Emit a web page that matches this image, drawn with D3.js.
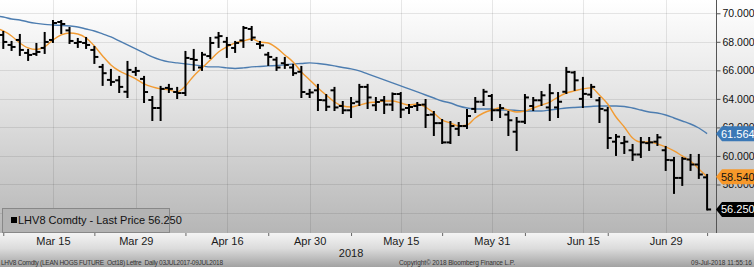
<!DOCTYPE html>
<html>
<head>
  <meta charset="utf-8">
  <style>
    html, body {
      margin: 0;
      padding: 0;
      background: #fff;
      width: 100%;
      height: 100%;
      overflow: hidden;
      font-family: "Liberation Sans", Arial, sans-serif;
    }
    svg { display: block; }
    .bar line { stroke: #000; stroke-width: 2px; }
    .grid line { stroke: #000; stroke-opacity: 0.09; shape-rendering: crispEdges; }
    .foot { font-size: 6.5px; fill: #333; white-space: pre; }
  </style>
</head>
<body>
  <svg width="754" height="267"></svg>

  <script src="https://d3js.org/d3.v7.min.js"></script>
  <script>
    const dates = [
      "2018-03-06","2018-03-07","2018-03-08","2018-03-09","2018-03-12","2018-03-13","2018-03-14","2018-03-15","2018-03-16",
      "2018-03-19","2018-03-20","2018-03-21","2018-03-22","2018-03-23","2018-03-26","2018-03-27","2018-03-28","2018-03-29",
      "2018-04-02","2018-04-03","2018-04-04","2018-04-05","2018-04-06","2018-04-09","2018-04-10","2018-04-11","2018-04-12",
      "2018-04-13","2018-04-16","2018-04-17","2018-04-18","2018-04-19","2018-04-20","2018-04-23","2018-04-24","2018-04-25",
      "2018-04-26","2018-04-27","2018-04-30",
      "2018-05-01","2018-05-02","2018-05-03","2018-05-04","2018-05-07","2018-05-08","2018-05-09","2018-05-10","2018-05-11",
      "2018-05-14","2018-05-15","2018-05-16","2018-05-17","2018-05-18","2018-05-21","2018-05-22","2018-05-23","2018-05-24",
      "2018-05-25","2018-05-29","2018-05-30","2018-05-31",
      "2018-06-01","2018-06-04","2018-06-05","2018-06-06","2018-06-07","2018-06-08","2018-06-11","2018-06-12","2018-06-13",
      "2018-06-14","2018-06-15","2018-06-18","2018-06-19","2018-06-20","2018-06-21","2018-06-22","2018-06-25","2018-06-26",
      "2018-06-27","2018-06-28","2018-06-29",
      "2018-07-02","2018-07-03","2018-07-05","2018-07-06","2018-07-09"
    ];

    const open = [
      68.80, 68.48, 67.78, 68.13, 67.22, 67.15, 67.57, 68.13, 69.39, 68.80,
      67.92, 67.92, 67.43, 66.24, 65.33, 65.30, 64.50, 65.89, 65.40, 63.92,
      63.36, 64.77, 64.48, 64.41, 66.80, 66.20, 67.00, 68.30, 68.00, 67.57,
      68.10, 68.90, 67.85, 67.10, 66.75, 66.50, 66.20, 65.90, 64.35, 64.60,
      63.90, 64.60, 63.50, 63.20, 63.80, 64.84, 63.55, 63.90, 63.60, 64.34,
      63.36, 63.50, 63.60, 62.90, 62.30, 60.95, 61.90, 62.10, 63.30, 63.80,
      64.20, 63.20, 62.90, 61.70, 62.40, 63.50, 63.90, 63.40, 63.40, 64.50,
      65.85, 64.00, 64.30, 63.90, 63.20, 61.00, 60.90, 60.40, 60.10, 60.90,
      61.00, 60.40, 59.70, 58.46, 59.75, 59.40, 58.50
    ];
    const high = [
      69.00, 68.69, 67.99, 68.48, 67.43, 67.85, 68.62, 69.46, 69.46, 68.97,
      68.20, 68.27, 67.64, 66.38, 66.03, 65.54, 66.59, 66.17, 65.54, 64.13,
      64.84, 64.98, 64.77, 67.29, 67.43, 67.22, 68.27, 68.62, 68.27, 67.99,
      69.04, 69.04, 67.99, 67.22, 66.87, 66.87, 66.38, 66.24, 64.63, 64.98,
      64.27, 64.77, 63.78, 64.06, 64.98, 64.98, 64.06, 64.13, 64.38, 64.41,
      63.57, 63.71, 63.92, 63.08, 62.52, 62.38, 62.31, 63.22, 64.06, 64.63,
      64.27, 63.57, 63.08, 62.66, 64.27, 64.06, 64.48, 64.98, 64.41, 66.17,
      65.89, 65.47, 64.98, 64.06, 63.36, 61.47, 61.33, 60.77, 61.26, 61.26,
      61.47, 60.63, 59.86, 59.86, 60.07, 60.07, 58.67
    ];
    const low = [
      68.30, 67.57, 67.43, 67.08, 66.73, 67.08, 67.22, 67.99, 68.62, 67.92,
      67.64, 67.57, 66.52, 64.98, 64.98, 64.48, 64.13, 65.68, 63.78, 62.52,
      62.52, 64.48, 64.06, 64.27, 66.03, 66.03, 66.87, 67.64, 66.94, 67.29,
      67.64, 68.13, 67.57, 66.38, 66.03, 66.17, 65.68, 64.13, 64.13, 63.22,
      63.22, 63.22, 63.01, 62.73, 63.57, 63.36, 63.22, 63.01, 63.22, 62.73,
      63.01, 63.22, 62.03, 61.47, 60.91, 60.91, 61.47, 61.96, 63.08, 63.57,
      62.52, 62.73, 61.47, 60.42, 62.31, 63.22, 63.57, 62.52, 62.73, 64.41,
      64.63, 63.43, 64.13, 62.38, 60.56, 60.07, 60.21, 59.72, 59.93, 60.42,
      60.77, 59.02, 57.41, 57.97, 59.02, 58.46, 56.25
    ];
    const close = [
      68.50, 67.99, 67.64, 67.43, 67.08, 67.29, 67.99, 69.32, 69.25, 68.06,
      67.99, 67.78, 66.94, 65.80, 65.19, 64.84, 66.03, 65.96, 64.48, 63.36,
      64.70, 64.70, 64.41, 66.87, 66.73, 67.10, 67.92, 68.40, 67.78, 67.92,
      68.97, 68.30, 67.75, 66.94, 66.20, 66.38, 65.80, 64.48, 64.45, 63.92,
      63.45, 63.40, 63.20, 63.70, 64.84, 64.10, 63.78, 63.60, 64.34, 63.25,
      63.43, 63.57, 62.87, 62.30, 60.95, 62.10, 62.10, 62.80, 63.80, 64.50,
      63.20, 63.35, 62.50, 62.40, 64.10, 63.90, 64.25, 64.40, 63.80, 65.89,
      65.30, 64.35, 64.84, 63.30, 61.26, 61.35, 61.00, 60.10, 60.95, 60.95,
      61.30, 59.72, 58.46, 59.80, 59.40, 58.70, 56.25
    ];

    // short moving average (orange)
    const maShort = [
      68.97, 68.76, 68.41, 67.92, 67.57, 67.46, 67.64, 68.13, 68.48, 68.62,
      68.55, 68.27, 67.71, 67.01, 66.38, 65.96, 65.68, 65.40, 65.05, 64.84,
      64.70, 64.63, 64.49, 64.91, 65.61, 66.17, 66.73, 67.29, 67.64, 67.92,
      68.06, 68.20, 67.99, 67.92, 67.57, 67.08, 66.59, 65.89, 65.33, 64.77,
      64.27, 63.78, 63.50, 63.43, 63.57, 63.71, 63.78, 63.85, 63.85, 63.71,
      63.57, 63.64, 63.43, 63.01, 62.52, 62.31, 62.10, 62.17, 62.66, 63.01,
      63.22, 63.36, 63.22, 63.08, 63.15, 63.36, 63.57, 63.78, 64.13, 64.41,
      64.56, 64.70, 64.77, 64.27, 63.64, 62.73, 62.03, 61.26, 60.98, 60.98,
      60.84, 60.63, 60.35, 60.00, 59.65, 59.09, 58.54
    ];
    // long moving average (blue)
    const maLong = [
      69.81, 69.74, 69.60, 69.53, 69.39, 69.29, 69.22, 69.18, 69.15, 69.11,
      69.04, 68.90, 68.76, 68.55, 68.34, 68.06, 67.78, 67.50, 67.22, 66.94,
      66.73, 66.59, 66.52, 66.45, 66.38, 66.31, 66.24, 66.24, 66.17, 66.13,
      66.17, 66.24, 66.27, 66.31, 66.34, 66.38, 66.45, 66.48, 66.52, 66.48,
      66.41, 66.31, 66.20, 66.10, 65.96, 65.75, 65.54, 65.33, 65.12, 64.91,
      64.70, 64.49, 64.27, 64.06, 63.85, 63.71, 63.50, 63.36, 63.29, 63.29,
      63.29, 63.22, 63.22, 63.19, 63.15, 63.15, 63.15, 63.22, 63.29, 63.36,
      63.40, 63.43, 63.47, 63.50, 63.50, 63.50, 63.47, 63.36, 63.22, 63.08,
      63.01, 62.87, 62.66, 62.45, 62.24, 61.96, 61.564
    ];

    const tickDates = ["2018-03-15","2018-03-29","2018-04-16","2018-04-30","2018-05-15","2018-05-31","2018-06-15","2018-06-29"];
    const tickLabels = ["Mar 15","Mar 29","Apr 16","Apr 30","May 15","May 31","Jun 15","Jun 29"];
    const minorTickDates = ["2018-03-07","2018-03-22","2018-04-09","2018-04-23","2018-05-07","2018-05-22","2018-06-06","2018-06-20","2018-07-09"];
    const gridTicks = [56, 58, 60, 62, 64, 66, 68, 70];
    const yTicks = [58, 60, 62, 64, 66, 68, 70];
    const yearLabel = "2018";

    const legendText = "LHV8 Comdty - Last Price 56.250";
    const footLeft = "LHV8 Comdty (LEAN HOGS FUTURE  Oct18) Lettre  Daily 03JUL2017-09JUL2018";
    const footMid = "Copyright\u00a9 2018 Bloomberg Finance L.P.";
    const footRight = "09-Jul-2018 11:55:16";

    const svg = d3.select("svg");
    const width = 754, height = 267;
    const plotRight = 716, plotBottom = 233;

    const x = d3.scalePoint().domain(dates).range([-5, 707.1]);
    const y = d3.scaleLinear().domain([54.6, 70.93]).range([plotBottom, 0]);

    const defs = svg.append("defs");
    const g1 = defs.append("linearGradient").attr("id", "plotBg")
      .attr("x1", 0).attr("y1", 0).attr("x2", 0).attr("y2", 1);
    g1.append("stop").attr("offset", "0%").attr("stop-color", "#ffffff");
    g1.append("stop").attr("offset", "45%").attr("stop-color", "#e2e2e2");
    g1.append("stop").attr("offset", "100%").attr("stop-color", "#b6b6b6");
    const g2 = defs.append("linearGradient").attr("id", "footBg")
      .attr("x1", 0).attr("y1", 0).attr("x2", 0).attr("y2", 1);
    g2.append("stop").attr("offset", "0%").attr("stop-color", "#f4f4f4");
    g2.append("stop").attr("offset", "45%").attr("stop-color", "#dcdcdc");
    g2.append("stop").attr("offset", "100%").attr("stop-color", "#a2a2a2");
    defs.append("clipPath").attr("id", "clip")
      .append("rect").attr("width", plotRight).attr("height", plotBottom);

    svg.append("rect").attr("width", width).attr("height", plotBottom).attr("fill", "url(#plotBg)");
    svg.append("rect").attr("y", plotBottom).attr("width", width).attr("height", height - plotBottom).attr("fill", "url(#footBg)");

    // grid
    const grid = svg.append("g").attr("class", "grid");
    grid.selectAll(".h").data(gridTicks).join("line")
      .attr("x1", 0).attr("x2", plotRight)
      .attr("y1", d => Math.round(y(d)) + 0.5).attr("y2", d => Math.round(y(d)) + 0.5);
    grid.selectAll(".v").data(tickDates).join("line")
      .attr("y1", 0).attr("y2", plotBottom)
      .attr("x1", d => Math.round(x(d)) + 0.5).attr("x2", d => Math.round(x(d)) + 0.5);

    const plot = svg.append("g").attr("clip-path", "url(#clip)");

    const line = d3.line().x((d, i) => x(dates[i])).y(d => y(d)).curve(d3.curveMonotoneX);
    plot.append("path").datum(maLong).attr("d", line)
      .attr("fill", "none").attr("stroke", "#4d7db0").attr("stroke-width", 1.4);
    plot.append("path").datum(maShort).attr("d", line)
      .attr("fill", "none").attr("stroke", "#f29b32").attr("stroke-width", 1.4);

    const bars = plot.append("g").attr("class", "bar")
      .selectAll("g").data(dates).join("g");
    bars.append("line")
      .attr("x1", d => x(d)).attr("x2", d => x(d))
      .attr("y1", (d, i) => y(high[i]) - 1).attr("y2", (d, i) => y(low[i]) + 1);
    bars.append("line")
      .attr("x1", d => x(d) - 4).attr("x2", d => x(d))
      .attr("y1", (d, i) => y(open[i])).attr("y2", (d, i) => y(open[i]));
    bars.append("line")
      .attr("x1", d => x(d)).attr("x2", d => x(d) + 4)
      .attr("y1", (d, i) => y(close[i])).attr("y2", (d, i) => y(close[i]));

    // right axis
    const yAxis = svg.append("g").attr("transform", `translate(${plotRight + 0.5},0)`)
      .call(d3.axisRight(y).tickValues(yTicks).tickFormat(d3.format(".3f")).tickSize(4).tickSizeOuter(0).tickPadding(2));
    yAxis.select(".domain").attr("stroke", "#555").attr("d", `M0,0V${plotBottom}`);
    yAxis.selectAll(".tick line").attr("stroke", "#555");
    yAxis.selectAll("text").attr("fill", "#111").style("font-size", "10.5px")
      .style("font-family", "'Liberation Sans', Arial, sans-serif");

    // bottom axis
    const xAxis = svg.append("g").attr("transform", `translate(0,${plotBottom})`)
      .call(d3.axisBottom(x).tickValues(tickDates).tickFormat((d, i) => tickLabels[i]).tickSize(0).tickPadding(4));
    xAxis.select(".domain").remove();
    xAxis.selectAll("text").attr("fill", "#1a1a1a").style("font-size", "11px")
      .style("font-family", "'Liberation Sans', Arial, sans-serif");
    const xMinor = svg.append("g").attr("transform", `translate(0,${plotBottom})`)
      .call(d3.axisBottom(x).tickValues(minorTickDates).tickFormat("").tickSize(3));
    xMinor.select(".domain").remove();
    xMinor.selectAll(".tick line").attr("stroke", "#666");

    svg.append("text").attr("x", x("2018-05-07")).attr("y", 257)
      .attr("text-anchor", "middle").attr("fill", "#1a1a1a")
      .style("font-size", "11px").text(yearLabel);

    // last value tags
    const tags = [
      { value: maLong[maLong.length - 1], fill: "#3b78b6", color: "#fff" },
      { value: maShort[maShort.length - 1], fill: "#f7982a", color: "#111" },
      { value: close[close.length - 1], fill: "#000", color: "#fff" }
    ];
    const tag = svg.append("g").selectAll("g").data(tags).join("g")
      .attr("transform", d => `translate(${plotRight},${y(d.value)})`);
    tag.append("path")
      .attr("d", `M0,0L6,-7.5H${width - plotRight}V7.5H6Z`)
      .attr("fill", d => d.fill);
    tag.append("text").attr("x", 5).attr("y", 4)
      .attr("fill", d => d.color).style("font-size", "11px")
      .text(d => d3.format(".3f")(d.value));

    // legend
    const leg = svg.append("g");
    leg.append("rect").attr("x", 2.5).attr("y", 208.5).attr("width", 167).attr("height", 24)
      .attr("fill", "#b3b3b3").attr("stroke", "#888").attr("stroke-width", 1);
    leg.append("rect").attr("x", 11).attr("y", 217).attr("width", 6).attr("height", 6).attr("fill", "#000");
    leg.append("text").attr("x", 18).attr("y", 224).attr("fill", "#111")
      .style("font-size", "11px").text(legendText);

    // footer
    svg.append("text").attr("class", "foot").attr("x", 1).attr("y", 265)
      .attr("textLength", 222).text(footLeft);
    svg.append("text").attr("class", "foot").attr("x", 399).attr("y", 265)
      .attr("textLength", 116).text(footMid);
    svg.append("text").attr("class", "foot").attr("x", 752).attr("y", 265)
      .attr("text-anchor", "end").text(footRight);
  </script>
</body>
</html>
